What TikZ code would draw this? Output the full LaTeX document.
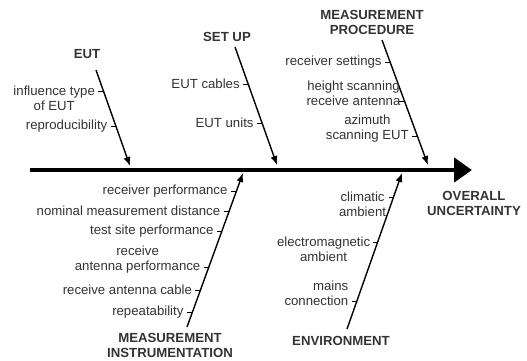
\documentclass[tikz,border=0pt]{standalone}
\usepackage{fontspec}
\setmainfont{Liberation Sans}
\usetikzlibrary{arrows.meta,positioning}
\begin{document}
\begin{tikzpicture}[x=1pt,y=-1pt]
\tikzstyle{cause}=[inner sep=0pt, outer sep=0pt, align=center, text=black!80,
	font=\fontsize{13.2}{15}\selectfont
]
\tikzstyle{head}=[cause, font=\fontsize{13.2}{15}\selectfont\bfseries]
\tikzstyle{bone}=[line width=1.4pt, -{Latex[length=9pt,width=7pt]}]
\tikzstyle{spine}=[line width=4.5pt, -{Triangle[length=18pt,width=24pt]}]
\tikzstyle{tick}=[line width=0.8pt]
\useasboundingbox (0,0) rectangle (527,360);

\node[head] (eut) at (87,54) {EUT};
\node[head] (setup) at (227,37) {SET UP};
\node[head] (proc) at (372,22) {MEASUREMENT\\PROCEDURE};
\node[head] (overall) at (474,203) {OVERALL\\UNCERTAINTY};
\node[head] (env) at (341,341) {ENVIRONMENT};
\node[head] (instr) at (170,345) {MEASUREMENT\\INSTRUMENTATION};

\coordinate (spS) at (30,170);
\coordinate (spE) at (472,170);
\coordinate (eutS) at (96,70);
\coordinate (eutE) at (130,166);
\coordinate (setS) at (235,47);
\coordinate (setE) at (277,165);
\coordinate (procS) at (382,40);
\coordinate (procE) at (428,165);
\coordinate (envS) at (347,329);
\coordinate (envE) at (402,173);
\coordinate (instS) at (187,327);
\coordinate (instE) at (243,173);

\draw[spine] (spS) -- (spE);
\draw[bone] (eutS) -- (eutE) coordinate[pos=0.219] (eut1) coordinate[pos=0.583] (eut2);
\draw[bone] (setS) -- (setE) coordinate[pos=0.314] (set1) coordinate[pos=0.644] (set2);
\draw[bone] (procS) -- (procE) coordinate[pos=0.176] (proc1) coordinate[pos=0.488] (proc2)
	coordinate[pos=0.768] (proc3);
\draw[bone] (envS) -- (envE) coordinate[pos=0.846] (env1) coordinate[pos=0.558] (env2)
	coordinate[pos=0.179] (env3);
\draw[bone] (instS) -- (instE) coordinate[pos=0.883] (inst1) coordinate[pos=0.753] (inst2)
	coordinate[pos=0.623] (inst3) coordinate[pos=0.390] (inst4)
	coordinate[pos=0.240] (inst5) coordinate[pos=0.097] (inst6);

\foreach \c in {eut1,eut2,set1,set2,proc1,proc2,proc3,env1,env2,env3,
	inst1,inst2,inst3,inst4,inst5,inst6}
	\draw[tick] (\c) -- ++(-5,0);

\node[cause, left=8.5pt of eut1, yshift=-7.5pt] (eutA) {influence type\\of EUT};
\node[cause, left=8.5pt of eut2] (eutB) {reproducibility};
\node[cause, left=8.5pt of set1] (setA) {EUT cables};
\node[cause, left=8.5pt of set2] (setB) {EUT units};
\node[cause, left=8.5pt of proc1] (procA) {receiver settings};
\node[cause, left=4pt of proc2, yshift=7.5pt] (procB) {height scanning\\receive antenna};
\node[cause, left=8.5pt of proc3, yshift=7.5pt] (procC) {azimuth\\scanning EUT};
\node[cause, left=7.5pt of env1, yshift=-7.5pt] (envA) {climatic\\ambient};
\node[cause, left=7.5pt of env2, yshift=-7.5pt] (envB) {electromagnetic\\ambient};
\node[cause, left=8.5pt of env3, yshift=7.5pt, align=right] (envC) {mains\\connection};
\node[cause, left=9pt of inst1] (instA) {receiver performance};
\node[cause, left=9pt of inst2] (instB) {nominal measurement distance};
\node[cause, left=8.5pt of inst3] (instC) {test site performance};
\node[cause, left=8.5pt of inst4, yshift=7.5pt] (instD) {receive\\antenna performance};
\node[cause, left=8.5pt of inst5] (instE) {receive antenna cable};
\node[cause, left=9pt of inst6] (instF) {repeatability};

\end{tikzpicture}
\end{document}
